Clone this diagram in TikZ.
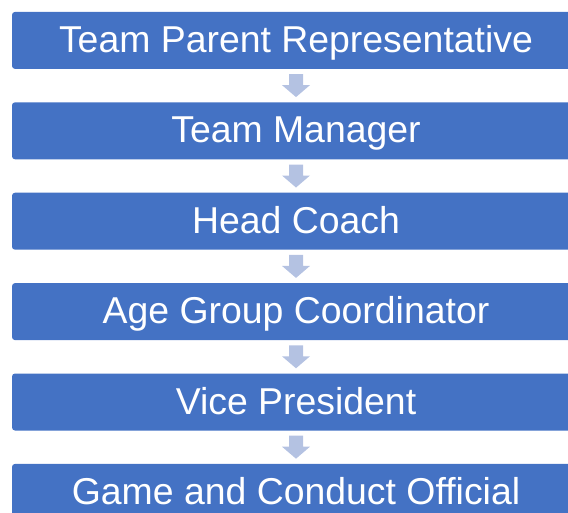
\documentclass[tikz,border=0pt]{standalone}
\usepackage{fontspec}
\setmainfont{Liberation Sans}
\usetikzlibrary{calc}
\definecolor{boxblue}{HTML}{4472C4}
\definecolor{arrowblue}{HTML}{B4C2E2}
\tikzset{
  role/.style={rectangle,rounded corners=3pt,fill=boxblue,text=white,
    minimum width=568pt,minimum height=57pt,inner sep=0pt,
    text height=26.8pt,text depth=2.8pt,
    font=\fontsize{37.4}{44}\selectfont},
  downarrow/.pic={
    \fill[arrowblue] (-7,-11.5) -- (7,-11.5) -- (7,-0.5) -- (14,-0.5)
      -- (0,11.5) -- (-14,-0.5) -- (-7,-0.5) -- cycle;
  }
}

\begin{document}
\begin{tikzpicture}[x=1pt,y=-1pt]
    \useasboundingbox (0,0) rectangle (568,512);
    \clip (0,0) rectangle (568,512);

    \node[role] (rep) at (296,40.4) {Team Parent Representative};
    \node[role] (manager) at (296,130.8) {Team Manager};
    \node[role] (coach) at (296,221.2) {Head Coach};
    \node[role] (agegroup) at (296,311.6) {Age Group Coordinator};
    \node[role] (vp) at (296,402) {Vice President};
    \node[role] (official) at (296,492.4) {Game and Conduct Official};

    % arrows between the roles
    \pic at ($(rep.south)!0.5!(manager.north)$) {downarrow};
    \pic at ($(manager.south)!0.5!(coach.north)$) {downarrow};
    \pic at ($(coach.south)!0.5!(agegroup.north)$) {downarrow};
    \pic at ($(agegroup.south)!0.5!(vp.north)$) {downarrow};
    \pic at ($(vp.south)!0.5!(official.north)$) {downarrow};
  \end{tikzpicture}
\end{document}
